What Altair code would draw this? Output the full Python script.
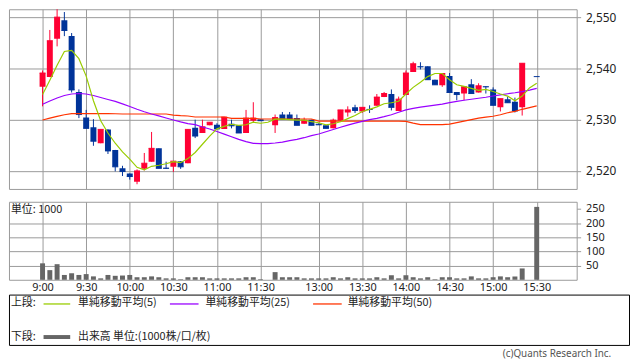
import json
import altair as alt
import pandas as pd

# ---------------- data ----------------
bar_index = list(range(0, 31)) + list(range(32, 67)) + [68]
open_ = [2536.4, 2538.3, 2545.8, 2549.4, 2546.3, 2535.4, 2530.4, 2528.5, 2525.4, 2528.1,
         2524.1, 2520.5, 2519.5, 2517.9, 2520.4, 2521.8, 2524.4, 2520.6, 2520.8, 2521.9,
         2521.5, 2528.4, 2527.4, 2528.9, 2529.0, 2528.2, 2529.2, 2528.9, 2527.4, 2529.8,
         2530.1,
         2528.9, 2531.0, 2531.0, 2530.3, 2529.2, 2530.0, 2529.2, 2528.9, 2528.3, 2529.8,
         2531.4, 2532.4, 2531.6, 2532.1, 2532.7, 2534.4, 2535.0, 2531.7, 2534.8, 2539.3,
         2540.4, 2540.4, 2537.8, 2536.7, 2538.5, 2535.4, 2535.1, 2536.9, 2535.3, 2536.5,
         2535.9, 2532.4, 2534.0, 2533.5, 2532.4,
         2538.4]
high = [2539.6, 2547.5, 2551.9, 2551.0, 2546.9, 2535.9, 2531.9, 2530.1, 2528.1, 2528.1,
        2524.1, 2521.0, 2519.5, 2520.3, 2523.5, 2527.6, 2524.4, 2521.8, 2521.9, 2521.9,
        2528.1, 2530.0, 2530.0, 2529.5, 2529.3, 2530.5, 2530.0, 2528.9, 2531.9, 2533.4,
        2530.1,
        2531.0, 2531.5, 2531.5, 2531.0, 2530.4, 2530.0, 2529.3, 2528.9, 2530.2, 2531.9,
        2532.6, 2532.9, 2532.4, 2532.8, 2535.0, 2535.4, 2535.9, 2534.5, 2539.6, 2541.3,
        2541.2, 2540.4, 2537.8, 2539.0, 2539.1, 2535.4, 2536.4, 2537.9, 2537.1, 2536.5,
        2536.3, 2534.1, 2534.5, 2534.3, 2541.0,
        2538.4]
low = [2532.6, 2538.3, 2544.3, 2546.3, 2535.3, 2530.3, 2528.3, 2524.9, 2525.4, 2523.3,
       2519.9, 2519.0, 2518.3, 2517.4, 2520.1, 2521.8, 2520.5, 2520.4, 2519.8, 2520.4,
       2521.5, 2526.4, 2527.4, 2528.9, 2528.2, 2528.2, 2528.3, 2527.4, 2527.4, 2529.4,
       2529.8,
       2527.4, 2530.1, 2530.0, 2528.9, 2529.2, 2528.9, 2529.0, 2528.3, 2528.3, 2529.8,
       2530.6, 2531.3, 2531.3, 2531.3, 2532.7, 2534.4, 2531.8, 2531.7, 2534.8, 2539.3,
       2539.8, 2537.8, 2536.8, 2536.4, 2535.3, 2533.8, 2533.8, 2535.1, 2535.3, 2535.1,
       2532.8, 2531.6, 2533.3, 2531.4, 2530.8,
       2538.4]
close = [2539.1, 2545.4, 2550.0, 2547.4, 2535.8, 2531.0, 2528.3, 2525.8, 2528.1, 2523.9,
         2520.8, 2519.9, 2518.9, 2520.0, 2521.5, 2524.4, 2520.5, 2520.5, 2521.9, 2520.8,
         2528.1, 2526.8, 2528.6, 2529.5, 2528.2, 2530.5, 2528.8, 2527.4, 2530.3, 2530.3,
         2529.8,
         2530.4, 2530.1, 2530.1, 2528.9, 2529.9, 2528.9, 2529.0, 2528.3, 2529.9, 2531.9,
         2531.9, 2531.8, 2532.4, 2532.0, 2534.4, 2535.1, 2532.4, 2534.0, 2539.1, 2540.9,
         2540.3, 2537.8, 2536.8, 2539.0, 2535.3, 2534.9, 2536.4, 2535.1, 2536.6, 2536.4,
         2532.8, 2534.1, 2533.3, 2531.7, 2541.0,
         2538.4]
volume = [58, 34, 55, 17, 23, 17, 20, 12, 5, 17,
          14, 15, 17, 9, 9, 12, 9, 5, 5, 2,
          9, 9, 9, 5, 5, 5, 5, 5, 9, 9,
          2,
          27, 9, 9, 9, 5, 5, 5, 5, 9, 5,
          9, 5, 5, 5, 9, 5, 16, 5, 16, 9,
          5, 9, 2, 9, 9, 5, 5, 12, 5, 5,
          9, 12, 9, 12, 40,
          257]

ma_index = list(range(0, 69))
sma5 = [2534.9, 2537.7, 2540.6, 2543.3, 2543.5, 2541.9, 2538.5, 2533.7, 2529.8, 2527.4,
        2525.4, 2523.7, 2522.3, 2520.7, 2520.2, 2520.9, 2521.1, 2521.4, 2521.8, 2521.6,
        2522.4, 2523.6, 2525.2, 2526.8, 2528.2, 2528.7, 2529.1, 2528.9, 2529.0, 2529.5,
        2529.3, 2529.5, 2530.1, 2530.1, 2530.0, 2529.9, 2529.9, 2529.6, 2529.4, 2529.0,
        2529.2, 2529.6, 2530.2, 2530.8, 2531.6, 2532.0, 2532.5, 2533.1, 2533.3, 2533.6,
        2535.0, 2536.3, 2537.3, 2538.4, 2539.0, 2539.0, 2537.8, 2536.8, 2536.5, 2536.1,
        2535.7, 2535.9, 2535.5, 2535.0, 2534.6, 2533.7, 2534.6, 2536.2, 2537.1]
sma25 = [2533.0, 2533.65, 2534.23, 2534.71, 2535.0, 2535.1, 2535.0, 2534.71, 2534.33, 2533.94,
         2533.56, 2533.08, 2532.56, 2532.02, 2531.54, 2531.1, 2530.73, 2530.33, 2529.94, 2529.56,
         2529.23, 2529.04, 2528.56, 2528.17, 2527.69, 2527.17, 2526.67, 2526.15, 2525.71, 2525.38,
         2525.33, 2525.33, 2525.44, 2525.63, 2525.9, 2526.15, 2526.48, 2526.87, 2527.21, 2527.63,
         2528.08, 2528.52, 2528.94, 2529.33, 2529.67, 2530.0, 2530.25, 2530.58, 2530.96, 2531.44,
         2531.92, 2532.21, 2532.44, 2532.65, 2532.85, 2533.04, 2533.33, 2533.56, 2533.79, 2533.98,
         2534.17, 2534.37, 2534.62, 2534.85, 2535.06, 2535.25, 2535.48, 2535.77, 2536.1]
sma50 = [2529.94, 2530.29, 2530.63, 2530.96, 2531.19, 2531.19, 2531.19, 2531.19, 2531.19, 2531.19,
         2531.15, 2531.1, 2531.1, 2531.1, 2531.1, 2531.1, 2531.1, 2531.1, 2530.87, 2530.77,
         2530.71, 2530.52, 2530.52, 2530.52, 2530.52, 2530.52, 2530.25, 2530.25, 2530.25, 2530.25,
         2530.13, 2530.13, 2530.13, 2530.13, 2530.13, 2530.13, 2530.13, 2530.13, 2529.71, 2529.71,
         2529.71, 2529.71, 2529.71, 2529.71, 2529.71, 2529.71, 2529.71, 2529.71, 2529.71, 2529.71,
         2529.67, 2529.33, 2529.04, 2529.04, 2529.04, 2529.04, 2529.13, 2529.42, 2529.71, 2530.0,
         2530.29, 2530.48, 2530.67, 2530.96, 2531.35, 2531.63, 2532.02, 2532.35, 2532.69]

tick_index = [0, 6, 12, 18, 24, 30, 38, 44, 50, 56, 62, 68]
tick_labels = ["9:00", "9:30", "10:00", "10:30", "11:00", "11:30",
               "13:00", "13:30", "14:00", "14:30", "15:00", "15:30"]
price_ticks = [2520, 2525, 2530, 2535, 2540, 2545, 2550]
vol_ticks = [50, 100, 150, 200, 250]
legend_labels = ["単純移動平均(5)", "単純移動平均(25)", "単純移動平均(50)"]

# ---------------- styling ----------------
UP, DOWN = "#ff0033", "#003399"
C5, C25, C50, CVOL = "#99cc00", "#9900ff", "#ff3300", "#666666"
GRID = "#999999"
JP = "Noto Sans CJK JP"
W = 575

candles = pd.DataFrame({"i": bar_index, "O": open_, "H": high, "L": low,
                        "C": close, "V": volume})
mas = pd.DataFrame({"i": ma_index, "s5": sma5, "s25": sma25, "s50": sma50})

xscale = alt.Scale(domain=[-4.62, 73.5], nice=False, zero=False)
yscale = alt.Scale(domain=[2516.48, 2551.54], nice=False, zero=False)

color_rule = alt.condition("datum.C > datum.O", alt.value(UP), alt.value(DOWN))

base = alt.Chart(candles).transform_calculate(
    xa="datum.i - 0.41", xb="datum.i + 0.41")

wicks = base.mark_rule(strokeWidth=1, clip=True).encode(
    x=alt.X("i:Q", scale=xscale,
            axis=alt.Axis(values=tick_index, labels=False, ticks=False,
                          domain=False, grid=True, title=None)),
    y=alt.Y("L:Q", scale=yscale,
            axis=alt.Axis(orient="right", values=price_ticks, format=",",
                          grid=True, tickSize=4, labelFontSize=12,
                          labelPadding=5, domain=False, title=None)),
    y2="H:Q",
    color=color_rule,
)
bodies = base.mark_bar(clip=True).encode(
    x=alt.X("xa:Q", scale=xscale), x2="xb:Q",
    y=alt.Y("O:Q", scale=yscale), y2="C:Q",
    color=color_rule,
)
dashes = base.mark_rule(strokeWidth=1, clip=True).encode(
    x=alt.X("xa:Q", scale=xscale), x2="xb:Q",
    y=alt.Y("C:Q", scale=yscale),
    color=color_rule,
)

def ma_line(col, colr):
    return alt.Chart(mas).mark_line(strokeWidth=1.2, color=colr, clip=True).encode(
        x=alt.X("i:Q", scale=xscale), y=alt.Y(f"{col}:Q", scale=yscale))

price = alt.layer(wicks, bodies, dashes,
                  ma_line("s50", C50), ma_line("s25", C25), ma_line("s5", C5)
                  ).properties(width=W, height=182)

label_expr = f"{json.dumps(tick_labels)}[indexof({json.dumps(tick_index)}, datum.value)]"

vol_bars = alt.Chart(candles).transform_calculate(
    va="datum.i - 0.34", vb="datum.i + 0.34", z="0"
).mark_bar(color=CVOL).encode(
    x=alt.X("va:Q", scale=xscale,
            axis=alt.Axis(values=tick_index, labelExpr=label_expr, grid=True,
                          ticks=False, domain=False, labelFontSize=11,
                          labelPadding=2, title=None)),
    x2="vb:Q",
    y=alt.Y("V:Q", scale=alt.Scale(domain=[0, 275], nice=False, zero=True),
            axis=alt.Axis(orient="right", values=vol_ticks, grid=True,
                          gridOpacity={"condition": {"test": "datum.value >= 250", "value": 0},
                                       "value": 1},
                          tickSize=4, labelFontSize=11, labelPadding=5,
                          labelOverlap=False, domain=False, title=None)),
    y2="z:Q",
)
dummy = pd.DataFrame({"k": [0]})
unit_text = alt.Chart(dummy).mark_text(
    text="単位: 1000", font=JP, fontSize=11, align="left", baseline="middle",
    color="#222").encode(x=alt.value(2), y=alt.value(8))

volume_chart = alt.layer(vol_bars, unit_text).properties(width=W, height=79)

# ---------------- legend box ----------------
def txt(t, x, y, align="left", size=11, colr="#222", font=JP):
    return alt.Chart(dummy).mark_text(text=t, font=font, fontSize=size, align=align,
                                      baseline="middle", color=colr).encode(
        x=alt.value(x), y=alt.value(y))

def seg(x1, x2, y, colr, w=1.0):
    return alt.Chart(dummy).mark_rule(color=colr, strokeWidth=w).encode(
        x=alt.value(x1), x2=alt.value(x2), y=alt.value(y))

legend = alt.layer(
    txt("上段:", 2, 9),
    seg(35, 62, 9.5, C5, 1.3), txt(legend_labels[0], 70, 9),
    seg(163, 192, 9.5, C25, 1.3), txt(legend_labels[1], 199, 9),
    seg(308, 337, 9.5, C50, 1.3), txt(legend_labels[2], 343, 9),
    txt("下段:", 2, 43),
    seg(35, 62, 43, CVOL, 4), txt("出来高 単位:(1000株/口/枚)", 70, 43),
    txt("(c)Quants Research Inc.", 610, 60, align="right", size=10, colr="#555",
        font="Noto Sans"),
).properties(width=628, height=51, view=alt.ViewBackground(stroke="#000", strokeWidth=1))

chart = alt.vconcat(
    alt.vconcat(price, volume_chart, spacing=11),
    legend, spacing=0,
).properties(
    padding={"left": 0, "top": -2, "right": 0, "bottom": 0},
    background="white",
).configure_view(
    stroke=GRID, strokeWidth=1
).configure_axis(
    gridColor=GRID, gridWidth=1, tickColor=GRID, labelColor="#222",
    labelFont="Noto Sans",
)

chart.save("out.html", embed_options={"renderer": "svg", "actions": False})
